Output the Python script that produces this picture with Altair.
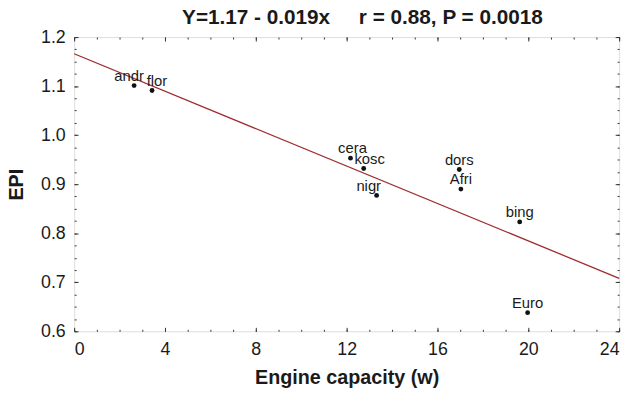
import altair as alt
import pandas as pd

species = ["andr", "flor", "cera", "kosc", "nigr", "dors", "Afri", "bing", "Euro"]
capacity = [2.64, 3.43, 12.17, 12.75, 13.32, 16.96, 17.03, 19.62, 19.97]
epi = [1.101, 1.091, 0.953, 0.932, 0.877, 0.930, 0.890, 0.823, 0.638]

fit_x = [0, 24]
fit_y = [1.166, 0.708]

x_major = [0, 4, 8, 12, 16, 20, 24]
x_minor = list(range(0, 25))
y_major = [0.6, 0.7, 0.8, 0.9, 1.0, 1.1, 1.2]
y_minor = [round(0.6 + 0.025 * i, 3) for i in range(25)]

title_text = "Y=1.17 - 0.019x\u00a0\u00a0\u00a0\u00a0\u00a0r = 0.88, P = 0.0018"

pts = pd.DataFrame({"species": species, "capacity": capacity, "epi": epi})
fit = pd.DataFrame({"capacity": fit_x, "epi": fit_y})

FONT = "Liberation Sans"
TICK = "#333333"
xs = alt.Scale(domain=[0, 24], nice=False, zero=False)
ys = alt.Scale(domain=[0.6, 1.2], nice=False, zero=False)


def ax(orient, values, size):
    return alt.Axis(orient=orient, values=values, tickSize=size, offset=-size,
                    domain=False, grid=False, labels=False, tickColor=TICK,
                    tickWidth=1, title=None)


line = alt.Chart(fit).mark_line(color="#9e2a2f", strokeWidth=1.3).encode(
    x=alt.X("capacity:Q", scale=xs,
            axis=alt.Axis(orient="bottom", values=x_major, tickSize=4, offset=-4,
                          domain=False, grid=False, tickColor=TICK,
                          labelFont=FONT, labelFontSize=18, labelColor="#1a1a1a",
                          labelPadding=10, title="Engine capacity (w)",
                          titleFont=FONT, titleFontSize=20, titleFontWeight="bold",
                          titleColor="#1a1a1a", titlePadding=9)),
    y=alt.Y("epi:Q", scale=ys,
            axis=alt.Axis(orient="left", values=y_major, tickSize=4, offset=-4,
                          domain=False, grid=False, tickColor=TICK, format=".1f",
                          labelFont=FONT, labelFontSize=18, labelColor="#1a1a1a",
                          labelPadding=9, title="EPI",
                          titleFont=FONT, titleFontSize=20, titleFontWeight="bold",
                          titleColor="#1a1a1a", titlePadding=14)),
)

points = alt.Chart(pts).mark_circle(color="#111111", size=24, opacity=1).encode(
    x=alt.X("capacity:Q", scale=xs, axis=ax("top", x_major, 4)),
    y=alt.Y("epi:Q", scale=ys, axis=ax("right", y_major, 4)),
)

minor1 = alt.Chart(pts).mark_circle(opacity=0).encode(
    x=alt.X("capacity:Q", scale=xs, axis=ax("bottom", x_minor, 2)),
    y=alt.Y("epi:Q", scale=ys, axis=ax("left", y_minor, 2)),
)
minor2 = alt.Chart(pts).mark_circle(opacity=0).encode(
    x=alt.X("capacity:Q", scale=xs, axis=ax("top", x_minor, 2)),
    y=alt.Y("epi:Q", scale=ys, axis=ax("right", y_minor, 2)),
)

offsets = {"andr": -5, "flor": 5, "cera": 2, "kosc": 6, "nigr": -8}
text_layers = []
for name, dx in offsets.items():
    text_layers.append(
        alt.Chart(pts).transform_filter(alt.datum.species == name)
        .mark_text(font=FONT, fontSize=15, color="#1a1a1a", dx=dx, dy=-5,
                   baseline="alphabetic", align="center")
        .encode(x=alt.X("capacity:Q", scale=xs, axis=None),
                y=alt.Y("epi:Q", scale=ys, axis=None), text="species:N")
    )
text_layers.append(
    alt.Chart(pts).transform_filter(
        ~alt.FieldOneOfPredicate(field="species", oneOf=list(offsets.keys())))
    .mark_text(font=FONT, fontSize=15, color="#1a1a1a", dy=-5,
               baseline="alphabetic", align="center")
    .encode(x=alt.X("capacity:Q", scale=xs, axis=None),
            y=alt.Y("epi:Q", scale=ys, axis=None), text="species:N")
)

chart = alt.layer(line, points, minor1, minor2, *text_layers).resolve_axis(
    x="independent", y="independent"
).properties(
    width=552, height=298,
    autosize=alt.AutoSizeParams(type="none"),
    padding={"left": 67, "top": 27, "right": 11, "bottom": 55},
    title=alt.TitleParams(title_text, font=FONT, fontSize=21, fontWeight="bold",
                          color="#1a1a1a", anchor="middle", dx=16, offset=0),
).configure_view(stroke="#333333", strokeWidth=1.2).configure(background="white")

chart.save("out.html", embed_options={"renderer": "svg", "actions": False})
